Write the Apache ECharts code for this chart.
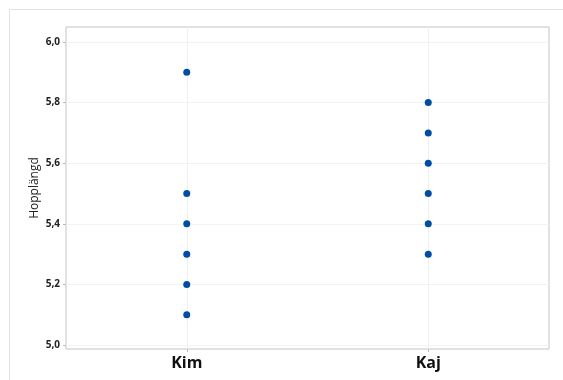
<!DOCTYPE html>
<html><head><meta charset="utf-8">
<script src="https://cdn.jsdelivr.net/npm/echarts@6/dist/echarts.min.js"></script>
<style>html,body{margin:0;padding:0;background:#fff}#c{width:563px;height:380px}</style>
</head><body><div id="c"></div>
<script>
var categories = ['Kim', 'Kaj'];
var kimValues = [5.9, 5.5, 5.4, 5.3, 5.2, 5.1];
var kajValues = [5.8, 5.7, 5.6, 5.5, 5.4, 5.3];
var yTicks = [5.0, 5.2, 5.4, 5.6, 5.8, 6.0];
var yName = 'Hopplängd';

var pts = [];
kimValues.forEach(function(v){ pts.push([categories[0], v]); });
kajValues.forEach(function(v){ pts.push([categories[1], v]); });

var chart = echarts.init(document.getElementById('c'));
chart.setOption({
  animation: false,
  graphic: [{type:'rect', shape:{x:9.5,y:9.5,width:600,height:400}, style:{fill:'none', stroke:'#e2e2e2', lineWidth:1}, z:-10}],
  grid: {left:66, top:27, right:14, bottom:31, show:true, borderColor:'#c4c4c4', borderWidth:1},
  xAxis: {
    type:'category', data:categories, boundaryGap:true,
    axisLine:{show:false},
    axisTick:{show:true, alignWithLabel:true, length:3, lineStyle:{color:'#bbb'}},
    axisLabel:{color:'#111', fontSize:16, fontWeight:'bold', fontFamily:'Open Sans', margin:6},
    splitLine:{show:false}
  },
  yAxis: {
    type:'value', min:4.987, max:6.0495, interval:0.2,
    name:yName, nameLocation:'middle', nameGap:25, nameRotate:90, nameMoveOverlap:false,
    nameTextStyle:{color:'#222', fontSize:12, fontFamily:'Open Sans'},
    axisLine:{show:false},
    axisTick:{show:true, length:3, lineStyle:{color:'#bbb'}, customValues: yTicks},
    axisLabel:{color:'#222', fontSize:10, fontWeight:'bold', fontFamily:'Open Sans', margin:6,
      customValues: yTicks,
      formatter:function(v){ return v.toFixed(1).replace('.', ','); }},
    splitLine:{show:true, lineStyle:{color:'#f3f3f3'}}
  },
  series: [{
    type:'scatter', data:pts, symbolSize:7,
    itemStyle:{color:'#004da3', opacity:1},
    z:5,
    markLine:{
      silent:true, symbol:['none','none'], label:{show:false},
      lineStyle:{color:'#f0f0f0', type:'solid', width:1},
      data: categories.map(function(c){ return {xAxis:c}; }),
      z:1
    }
  }]
});
</script></body></html>
